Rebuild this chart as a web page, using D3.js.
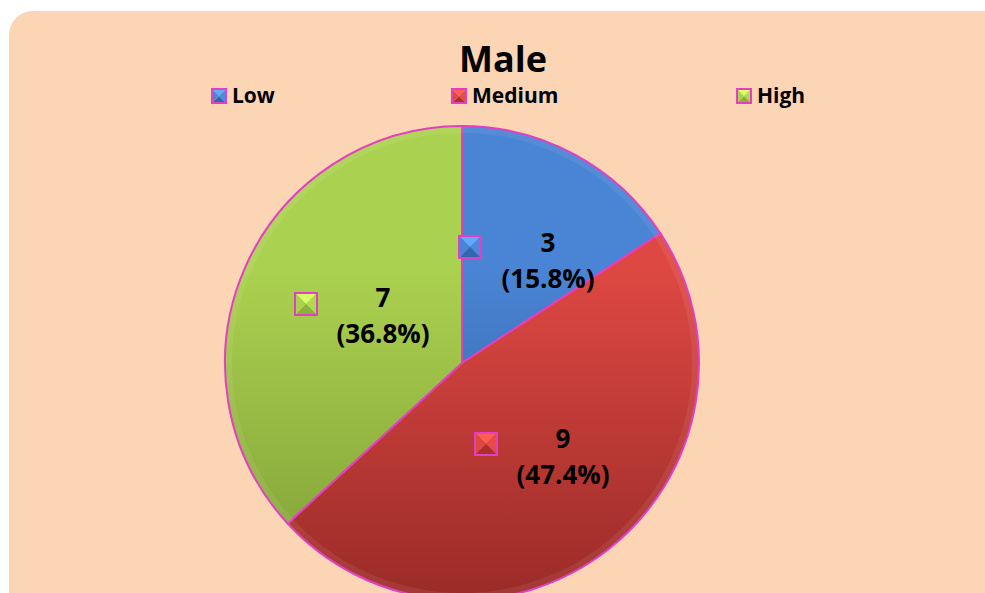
<!DOCTYPE html>
<html>
<head>
<meta charset="utf-8">
<script src="https://cdn.jsdelivr.net/npm/d3@7"></script>
<style>
  body { margin: 0; background: #ffffff; }
  svg { display: block; }
  text { font-family: "Open Sans", Lato, sans-serif; font-weight: bold; }
</style>
</head>
<body>
<div id="main"></div>
<script>
var categories = ["Low", "Medium", "High"];
var values = [3, 9, 7];
var percents = ["15.8%", "47.4%", "36.8%"];
var colors = ["#4a84d4", "#de4843", "#abd150"];
var darkColors = ["#2e5c9c", "#9a2b27", "#7f9e35"];

var ctx = {
    w: 985,
    h: 593,
    cx: 462,
    cy: 363,
    r: 237,
};

var svg = d3.select("#main").append("svg")
    .attr("width", ctx.w)
    .attr("height", ctx.h);

var defs = svg.append("defs");
categories.forEach(function (c, i) {
    // gradient lives in the pie group's coordinates (centre at 0,0)
    var g = defs.append("linearGradient")
        .attr("id", "grad" + i)
        .attr("gradientUnits", "userSpaceOnUse")
        .attr("x1", 0).attr("y1", -ctx.r)
        .attr("x2", 0).attr("y2", ctx.r);
    g.append("stop").attr("offset", "0%").attr("stop-color", colors[i]);
    g.append("stop").attr("offset", "30%").attr("stop-color", colors[i]);
    g.append("stop").attr("offset", "100%").attr("stop-color", darkColors[i]);
});

// background panel
svg.append("rect")
    .attr("x", 9).attr("y", 11)
    .attr("width", 1000).attr("height", 620)
    .attr("rx", 24).attr("ry", 24)
    .attr("fill", "#fcd5b5");

var pie = d3.pie().sort(null).value(function (d) { return d; });
var arcs = pie(values);
var arc = d3.arc().innerRadius(0).outerRadius(ctx.r);

var g = svg.append("g").attr("transform", "translate(" + ctx.cx + "," + ctx.cy + ")");

g.selectAll("path.slice")
    .data(arcs)
    .enter()
    .append("path")
    .attr("class", "slice")
    .attr("d", arc)
    .attr("fill", function (d, i) { return "url(#grad" + i + ")"; })
    .attr("stroke", "#e23fc4")
    .attr("stroke-width", 2);

// soft bevel on the rim
g.append("circle")
    .attr("r", ctx.r - 4)
    .attr("fill", "none")
    .attr("stroke", "rgba(255,255,255,0.07)")
    .attr("stroke-width", 6);

function drawMarker(sel, x, y, s, i) {
    var h = s / 2;
    var m = sel.append("g").attr("transform", "translate(" + x + "," + y + ")");
    var pts = [[-h, -h], [h, -h], [h, h], [-h, h]];
    var shade = [
        d3.color(colors[i]).brighter(0.7),
        d3.color(colors[i]).brighter(0.1),
        d3.color(darkColors[i]).brighter(0.3),
        d3.color(colors[i]),
    ];
    for (var k = 0; k < 4; k++) {
        var a = pts[k], b = pts[(k + 1) % 4];
        m.append("path")
            .attr("d", "M" + a + "L" + b + "L0,0Z")
            .attr("fill", shade[k]);
    }
    m.append("rect")
        .attr("x", -h).attr("y", -h)
        .attr("width", s).attr("height", s)
        .attr("fill", "none")
        .attr("stroke", "#e23fc4")
        .attr("stroke-width", 2);
}

// data labels
var labelPos = [[548, 242, 470, 247], [563, 438, 486, 444], [383, 297, 306, 304]];
arcs.forEach(function (d, i) {
    var p = labelPos[i];
    drawMarker(svg, p[2], p[3], 22, i);
    svg.append("text")
        .attr("x", p[0]).attr("y", p[1] + 10)
        .attr("text-anchor", "middle")
        .attr("font-size", 26)
        .attr("fill", "#000")
        .text(d.data);
    svg.append("text")
        .attr("x", p[0]).attr("y", p[1] + 46)
        .attr("text-anchor", "middle")
        .attr("font-size", 26)
        .attr("fill", "#000")
        .text("(" + percents[i] + ")");
});

// title
svg.append("text")
    .attr("x", 503).attr("y", 72)
    .attr("text-anchor", "middle")
    .attr("font-size", 36)
    .attr("fill", "#000")
    .text("Male");

// legend
var legendX = [212, 452, 737];
categories.forEach(function (c, i) {
    drawMarker(svg, legendX[i] + 7, 96, 14, i);
    svg.append("text")
        .attr("x", legendX[i] + 20).attr("y", 103)
        .attr("font-size", 21)
        .attr("fill", "#000")
        .text(c);
});
</script>
</body>
</html>
